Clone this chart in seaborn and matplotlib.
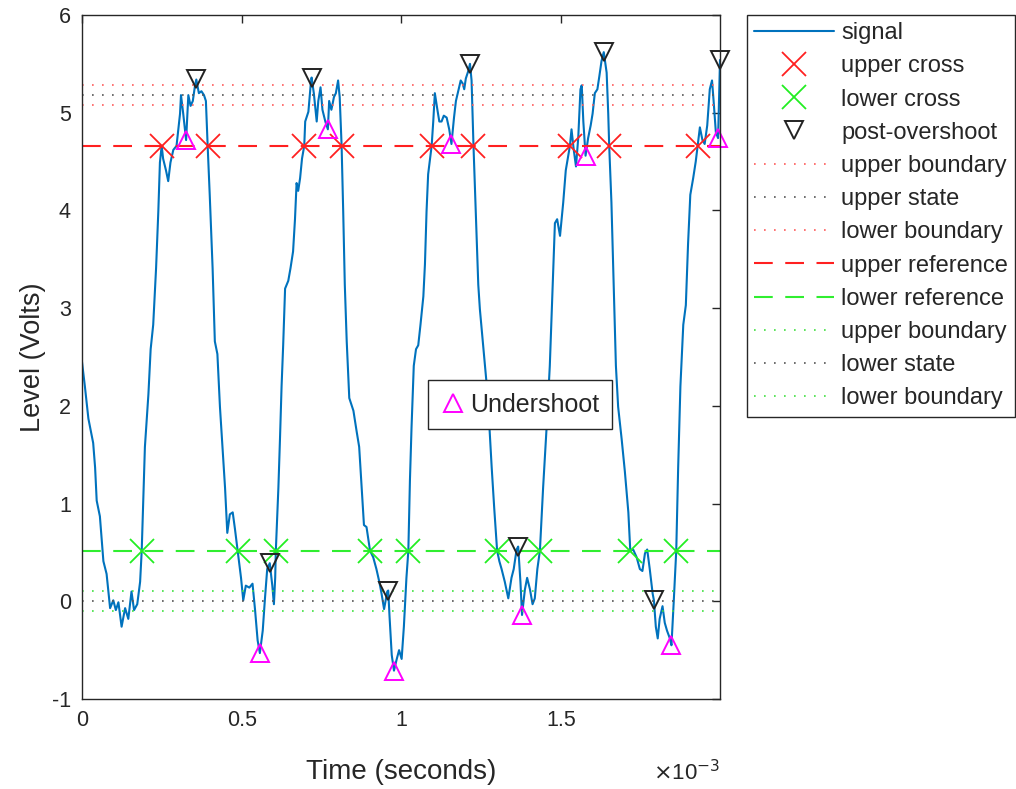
import matplotlib
matplotlib.use("Agg")
import matplotlib.pyplot as plt
import numpy as np
import pandas as pd
import seaborn as sns
from matplotlib.lines import Line2D

# signal trace, time in ms, level in volts
time_ms = [
    0.000, 0.009, 0.020, 0.035, 0.041, 0.046, 0.056, 0.067, 0.077, 0.088,
    0.098, 0.106, 0.114, 0.124, 0.135, 0.145, 0.155, 0.163, 0.173, 0.182,
    0.187, 0.197, 0.208, 0.215, 0.223, 0.232, 0.239, 0.244, 0.2495, 0.254,
    0.263, 0.270, 0.277, 0.286, 0.296, 0.307, 0.310, 0.317, 0.326, 0.333,
    0.340, 0.347, 0.354, 0.358, 0.366, 0.374, 0.382, 0.388, 0.3935, 0.400,
    0.409, 0.416, 0.424, 0.432, 0.440, 0.448, 0.455, 0.463, 0.472, 0.479,
    0.4875, 0.498, 0.505, 0.513, 0.524, 0.534, 0.542, 0.550, 0.557, 0.566,
    0.573, 0.580, 0.588, 0.596, 0.601, 0.605, 0.607, 0.615, 0.620, 0.625,
    0.630, 0.636, 0.646, 0.653, 0.661, 0.667, 0.672, 0.677, 0.683, 0.689,
    0.696, 0.699, 0.709, 0.716, 0.719, 0.726, 0.735, 0.740, 0.747, 0.753,
    0.762, 0.770, 0.774, 0.781, 0.789, 0.795, 0.802, 0.807, 0.813, 0.818,
    0.823, 0.829, 0.837, 0.850, 0.860, 0.868, 0.876, 0.883, 0.891, 0.899,
    0.902, 0.912, 0.922, 0.931, 0.938, 0.946, 0.956, 0.959, 0.963, 0.970,
    0.977, 0.985, 0.993, 1.001, 1.008, 1.016, 1.022, 1.027, 1.032, 1.039,
    1.046, 1.053, 1.060, 1.069, 1.074, 1.079, 1.084, 1.095, 1.100, 1.105,
    1.113, 1.119, 1.126, 1.133, 1.142, 1.150, 1.157, 1.165, 1.171, 1.178,
    1.186, 1.192, 1.197, 1.202, 1.210, 1.215, 1.220, 1.226, 1.233, 1.241,
    1.246, 1.255, 1.262, 1.269, 1.276, 1.283, 1.291, 1.300, 1.307, 1.314,
    1.324, 1.335, 1.345, 1.352, 1.361, 1.366, 1.373, 1.378, 1.387, 1.394,
    1.403, 1.411, 1.418, 1.426, 1.434, 1.444, 1.455, 1.465, 1.474, 1.481,
    1.488, 1.497, 1.507, 1.515, 1.528, 1.533, 1.540, 1.547, 1.554, 1.561,
    1.565, 1.570, 1.577, 1.585, 1.593, 1.599, 1.606, 1.614, 1.620, 1.627,
    1.634, 1.643, 1.648, 1.651, 1.658, 1.665, 1.672, 1.679, 1.690, 1.700,
    1.711, 1.717, 1.726, 1.737, 1.747, 1.755, 1.763, 1.770, 1.778, 1.787,
    1.791, 1.797, 1.803, 1.809, 1.818, 1.825, 1.832, 1.841, 1.846, 1.853,
    1.861, 1.867, 1.874, 1.883, 1.891, 1.898, 1.905, 1.914, 1.922, 1.928,
    1.935, 1.943, 1.950, 1.958, 1.966, 1.973, 1.978, 1.985, 1.992, 1.998,
]
level_v = [
    2.45, 2.20, 1.87, 1.62, 1.37, 1.03, 0.87, 0.41, 0.28, -0.07,
    0.01, -0.09, -0.01, -0.26, -0.07, -0.18, 0.10, -0.09, -0.03, 0.20,
    0.518, 1.58, 2.12, 2.58, 2.83, 3.41, 3.99, 4.49, 4.662, 4.53,
    4.41, 4.30, 4.49, 4.62, 4.66, 4.99, 5.18, 4.99, 4.72, 5.18,
    5.07, 5.12, 5.28, 5.34, 5.20, 5.22, 5.18, 5.12, 4.662, 4.16,
    3.41, 2.66, 2.53, 1.99, 1.58, 1.16, 0.70, 0.89, 0.91, 0.74,
    0.518, 0.24, 0.01, 0.16, 0.14, 0.18, -0.09, -0.40, -0.53, -0.30,
    0.03, 0.33, 0.39, 0.16, -0.03, 0.24, 0.518, 1.16, 1.66, 2.20,
    2.62, 3.20, 3.28, 3.41, 3.58, 3.91, 4.28, 4.20, 4.33, 4.53,
    4.662, 4.91, 5.01, 5.28, 5.36, 5.20, 4.91, 5.12, 5.26, 5.03,
    4.91, 4.83, 5.12, 5.03, 5.16, 5.20, 5.33, 5.16, 4.662, 3.99,
    3.24, 2.66, 2.08, 1.95, 1.74, 1.58, 1.16, 0.78, 0.76, 0.58,
    0.518, 0.45, 0.33, 0.20, 0.08, -0.08, 0.10, 0.11, -0.15, -0.55,
    -0.71, -0.60, -0.50, -0.59, -0.26, 0.24, 0.518, 1.24, 1.78, 2.41,
    2.58, 2.62, 2.83, 3.12, 3.45, 3.99, 4.37, 4.662, 4.91, 5.20,
    5.03, 4.91, 4.91, 4.97, 4.95, 4.83, 4.68, 4.95, 5.12, 5.22,
    5.33, 5.30, 5.24, 5.35, 5.43, 5.50, 5.33, 4.662, 3.99, 3.24,
    2.99, 2.66, 2.41, 2.16, 1.78, 1.37, 0.95, 0.518, 0.41, 0.33,
    0.20, 0.03, 0.24, 0.33, 0.53, 0.56, 0.20, -0.14, 0.12, 0.24,
    0.12, -0.03, 0.03, 0.33, 0.518, 1.16, 1.78, 2.41, 3.24, 3.87,
    3.91, 3.74, 4.08, 4.41, 4.662, 4.83, 4.62, 4.45, 4.74, 5.24,
    5.28, 4.91, 4.56, 4.74, 4.87, 4.99, 5.20, 5.24, 5.37, 5.53,
    5.62, 5.41, 4.99, 4.662, 4.08, 3.24, 2.41, 1.99, 1.66, 1.33,
    0.91, 0.518, 0.53, 0.45, 0.33, 0.31, 0.49, 0.53, 0.33, 0.08,
    0.01, -0.26, -0.38, -0.18, -0.05, -0.22, -0.30, -0.38, -0.45, -0.01,
    0.518, 1.37, 2.20, 2.83, 3.03, 3.66, 4.16, 4.33, 4.50, 4.662,
    4.85, 4.72, 4.68, 4.87, 5.24, 5.33, 5.12, 4.80, 4.74, 5.54,
]

# state levels and reference levels
upper_state = 5.18
lower_state = 0.0
upper_bounds = [5.284, 5.076]
lower_bounds = [0.104, -0.104]
upper_ref = 4.662
lower_ref = 0.518

upper_cross_ms = [0.2495, 0.3935, 0.696, 0.813, 1.095, 1.226, 1.528, 1.651, 1.928]
lower_cross_ms = [0.187, 0.4875, 0.607, 0.902, 1.022, 1.300, 1.434, 1.717, 1.861]

overshoot_ms = [0.358, 0.588, 0.719, 0.959, 1.215, 1.366, 1.634, 1.791, 1.998]
overshoot_v = [5.34, 0.39, 5.36, 0.11, 5.50, 0.56, 5.62, 0.01, 5.54]

undershoot_ms = [0.326, 0.557, 0.770, 0.977, 1.157, 1.378, 1.577, 1.846, 1.992]
undershoot_v = [4.72, -0.53, 4.83, -0.71, 4.68, -0.14, 4.56, -0.45, 4.74]

sns.set_style("white")
plt.rcParams["font.family"] = ["Liberation Sans", "DejaVu Sans"]
plt.rcParams["axes.unicode_minus"] = False

W, H = 1016, 789
fig = plt.figure(figsize=(W / 100, H / 100), dpi=100)
ax = fig.add_axes([82 / W, 1 - 699 / H, (720 - 82) / W, (699 - 15) / H])

df = pd.DataFrame({"t": np.array(time_ms) * 1e-3, "v": level_v})
sns.lineplot(data=df, x="t", y="v", sort=False, estimator=None,
             color="#0072BD", linewidth=1.5, ax=ax, legend=False)
h_signal = Line2D([], [], color="#0072BD", linewidth=1.5)

dot = (0, (1, 5))
dash = (0, (9, 6))
h_ub1 = ax.axhline(upper_bounds[0], color="#ff5a5a", lw=1.2, ls=dot)
h_us = ax.axhline(upper_state, color="#555555", lw=1.2, ls=dot)
h_lb1 = ax.axhline(upper_bounds[1], color="#ff5a5a", lw=1.2, ls=dot)
h_uref = ax.axhline(upper_ref, color="#ff2020", lw=1.5, ls=dash)
h_lref = ax.axhline(lower_ref, color="#30ee30", lw=1.5, ls=dash)
h_ub2 = ax.axhline(lower_bounds[0], color="#40e040", lw=1.2, ls=dot)
h_ls = ax.axhline(lower_state, color="#555555", lw=1.2, ls=dot)
h_lb2 = ax.axhline(lower_bounds[1], color="#40e040", lw=1.2, ls=dot)

uc = np.array(upper_cross_ms) * 1e-3
lc = np.array(lower_cross_ms) * 1e-3
h_uc, = ax.plot(uc, [upper_ref] * len(uc), "x", color="#ff2020", ms=17, mew=1.3, ls="none", clip_on=False)
h_lc, = ax.plot(lc, [lower_ref] * len(lc), "x", color="#22ee22", ms=17, mew=1.3, ls="none", clip_on=False)
h_po, = ax.plot(np.array(overshoot_ms) * 1e-3, overshoot_v, "v", mfc="none", mec="#222222",
                ms=13, mew=1.4, ls="none", clip_on=False)
h_un, = ax.plot(np.array(undershoot_ms) * 1e-3, undershoot_v, "^", mfc="none", mec="#ff00ff",
                ms=13, mew=1.4, ls="none", clip_on=False)

ax.set_xlim(0, 1.998e-3)
ax.set_ylim(-1, 6)
ax.set_xticks([0, 0.5e-3, 1e-3, 1.5e-3])
ax.set_xticklabels(["0", "0.5", "1", "1.5"])
ax.set_yticks(range(-1, 7))
ax.set_yticklabels([str(v) for v in range(-1, 7)])
ax.tick_params(direction="in", top=True, right=True, length=6, width=1,
               labelsize=15.5, colors="#262626", pad=8)
for s in ax.spines.values():
    s.set_color("#262626")
    s.set_linewidth(1)
ax.set_xlabel("Time (seconds)", fontsize=20, color="#262626", labelpad=20)
ax.set_ylabel("Level (Volts)", fontsize=19.5, color="#262626", labelpad=4)
fig.text(653 / W, 1 - 773 / H, r"$\times$10$^{-3}$", fontsize=16, color="#262626", va="center")

handles = [h_signal, h_uc, h_lc, h_po, h_ub1, h_us, h_lb1, h_uref, h_lref, h_ub2, h_ls, h_lb2]
labels = ["signal", "upper cross", "lower cross", "post-overshoot", "upper boundary",
          "upper state", "lower boundary", "upper reference", "lower reference",
          "upper boundary", "lower state", "lower boundary"]
leg = fig.legend(handles, labels, loc="upper left", bbox_to_anchor=(747 / W, 1 - 15 / H),
                 fontsize=17, frameon=True, fancybox=False, edgecolor="#262626",
                 framealpha=1, borderaxespad=0, handlelength=3.4, handletextpad=0.3,
                 labelspacing=0.475, borderpad=0.3)
leg.get_frame().set_linewidth(1)

h_un_leg = Line2D([], [], marker="^", mfc="none", mec="#ff00ff", ms=13, mew=1.4, ls="none")
leg2 = ax.legend([h_un_leg], ["Undershoot"], loc="center",
                 bbox_to_anchor=(520 / W, 1 - 405 / H), bbox_transform=fig.transFigure,
                 fontsize=18, frameon=True, fancybox=False, edgecolor="#262626",
                 framealpha=1, handlelength=1.0, handletextpad=0.2, borderpad=0.5)
leg2.get_frame().set_linewidth(1)

fig.savefig("out.png", dpi=100)
